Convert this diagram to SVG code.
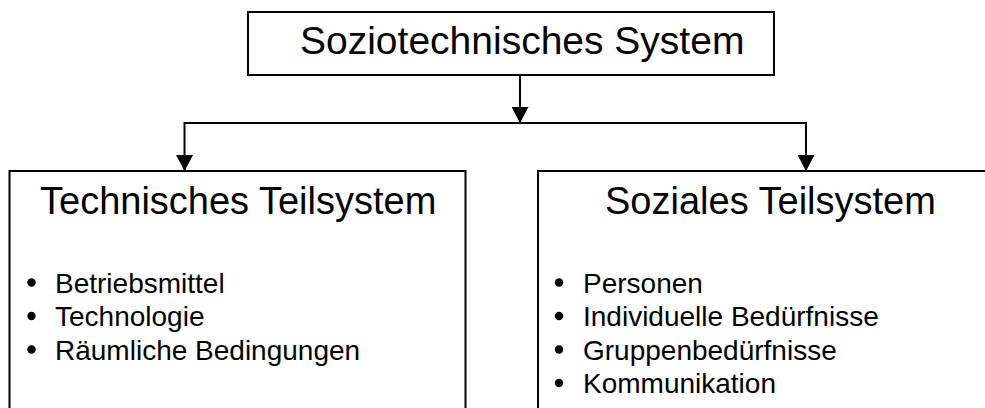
<svg xmlns="http://www.w3.org/2000/svg" width="985" height="408" viewBox="0 0 985 408">
<defs>
<marker id="arr" markerUnits="userSpaceOnUse" markerWidth="16" markerHeight="17" viewBox="0 0 16 17" refX="16" refY="8.5" orient="auto">
<path d="M0,0 L16,8.5 L0,17 Z" fill="#000"/>
</marker>
</defs>
<style>
.box{fill:#fff;stroke:#000;stroke-width:2}
.ln{fill:none;stroke:#000;stroke-width:2}
text{font-family:"Liberation Sans",Arial,sans-serif;fill:#000}
.t1{font-size:39px}
.t2{font-size:38px}
.li{font-size:28px}
</style>
<rect width="985" height="408" fill="#fff"/>
<g id="connectors">
<line class="ln" x1="520" y1="75" x2="520" y2="123" marker-end="url(#arr)"/>
<line class="ln" x1="184.5" y1="123" x2="806" y2="123"/>
<line class="ln" x1="184.5" y1="122" x2="184.5" y2="171" marker-end="url(#arr)"/>
<line class="ln" x1="806" y1="122" x2="806" y2="171" marker-end="url(#arr)"/>
</g>
<g id="top">
<rect class="box" x="248" y="12" width="526" height="63"/>
<text class="t1" x="300" y="54">Soziotechnisches System</text>
</g>
<g id="technisch">
<rect class="box" x="9.5" y="171" width="456" height="250"/>
<text class="t2" x="40" y="214">Technisches Teilsystem</text>
<circle cx="31.5" cy="282.5" r="4.2"/><text class="li" x="55" y="292.5">Betriebsmittel</text>
<circle cx="31.5" cy="316" r="4.2"/><text class="li" x="55" y="326">Technologie</text>
<circle cx="31.5" cy="349.5" r="4.2"/><text class="li" x="55" y="359.5">Räumliche Bedingungen</text>
</g>
<g id="sozial">
<rect class="box" x="538" y="171" width="460" height="250"/>
<text class="t2" x="605" y="214">Soziales Teilsystem</text>
<circle cx="559" cy="282.5" r="4.2"/><text class="li" x="583" y="292.5">Personen</text>
<circle cx="559" cy="316" r="4.2"/><text class="li" x="583" y="326">Individuelle Bedürfnisse</text>
<circle cx="559" cy="349.5" r="4.2"/><text class="li" x="583" y="359.5">Gruppenbedürfnisse</text>
<circle cx="559" cy="383" r="4.2"/><text class="li" x="583" y="393">Kommunikation</text>
</g>
</svg>
